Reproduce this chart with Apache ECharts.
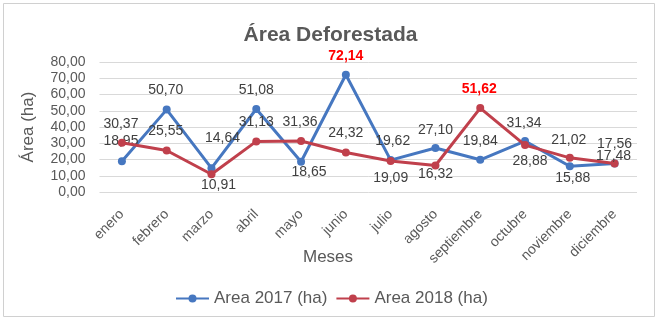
<!DOCTYPE html>
<html>
<head>
<meta charset="utf-8">
<script src="https://cdn.jsdelivr.net/npm/echarts@6/dist/echarts.min.js"></script>
<style>
html,body{margin:0;padding:0;background:#fff;}
#chart{width:661px;height:323px;}
</style>
</head>
<body>
<div id="chart"></div>
<script>
var categories = ['enero','febrero','marzo','abril','mayo','junio','julio','agosto','septiembre','octubre','noviembre','diciembre'];
var area2017 = [18.95, 50.70, 14.64, 51.08, 18.65, 72.14, 19.62, 27.10, 19.84, 31.34, 15.88, 17.56];
var area2018 = [30.37, 25.55, 10.91, 31.13, 31.36, 24.32, 19.09, 16.32, 51.62, 28.88, 21.02, 17.48];
var yTicks = [0, 10, 20, 30, 40, 50, 60, 70, 80];

// label placement (offset from point to label centre), style only
var off2017 = [[-1,-20],[-1,-19],[11,-30],[0,-19],[8,10],[0,-19],[2,-19],[0,-18],[0,-19],[-1,-18],[3,12],[0,-19]];
var off2018 = [[-1,-19],[-1,-19],[7,11],[0,-19],[-1,-19],[0,-19],[0,17],[0,9],[-1,-19],[5,16],[-1,-18],[-1,-7]];

var FONT = "'Liberation Sans', Arial, sans-serif";
var BLUE = '#4677C0';
var RED = '#C0404C';

function fmt(v){ return v.toFixed(2).replace('.', ','); }

function buildData(vals, offs){
  var maxV = Math.max.apply(null, vals);
  return vals.map(function(v, i){
    var isMax = v === maxV;
    return {
      value: v,
      label: {
        offset: offs[i],
        color: isMax ? '#FF0000' : '#404040',
        fontWeight: isMax ? 'bold' : 'normal'
      }
    };
  });
}

var chart = echarts.init(document.getElementById('chart'), null, {renderer:'canvas'});
var baseLabel = {
  show: true,
  position: 'inside',
  align: 'center',
  verticalAlign: 'middle',
  fontFamily: FONT,
  fontSize: 14,
  formatter: function(p){ return fmt(p.value); }
};
chart.setOption({
  backgroundColor: '#ffffff',
  animation: false,
  title: {
    text: 'Área Deforestada',
    left: 'center',
    top: 20,
    textStyle: {fontFamily: FONT, fontSize: 21, fontWeight: 'bold', color: '#595959'}
  },
  graphic: [
    {type:'rect', shape:{x:3.5, y:3.5, width:651, height:313}, style:{fill:'none', stroke:'#d0d0d0', lineWidth:1}, silent:true},
    {type:'text', left: 303, top: 249, style:{text:'Meses', font: '17px ' + FONT, fill:'#595959'}}
  ],
  legend: {
    left: 170,
    top: 285,
    itemWidth: 33,
    itemHeight: 10,
    itemGap: 8,
    textStyle: {fontFamily: FONT, fontSize: 17, color: '#595959'},
    data: ['Area 2017 (ha)', 'Area 2018 (ha)']
  },
  grid: {left: 99.5, right: 24, top: 62, bottom: 131, containLabel: false},
  xAxis: {
    type: 'category',
    data: categories,
    boundaryGap: true,
    axisLine: {show: false},
    axisTick: {show: false},
    axisLabel: {rotate: 45, margin: 20, fontFamily: FONT, fontSize: 14, color: '#595959', interval: 0}
  },
  yAxis: {
    type: 'value',
    min: yTicks[0],
    max: yTicks[yTicks.length-1],
    interval: yTicks[1] - yTicks[0],
    name: 'Área (ha)',
    nameLocation: 'middle',
    nameRotate: 90,
    nameGap: 63,
    nameTextStyle: {fontFamily: FONT, fontSize: 17, color: '#595959'},
    axisLine: {show: false},
    axisTick: {show: false},
    splitLine: {lineStyle: {color: '#d9d9d9', width: 1}},
    axisLabel: {margin: 14, fontFamily: FONT, fontSize: 14, color: '#595959', formatter: function(v){ return fmt(v); }}
  },
  series: [
    {
      name: 'Area 2017 (ha)',
      type: 'line',
      data: buildData(area2017, off2017),
      symbol: 'circle',
      symbolSize: 8,
      itemStyle: {color: BLUE},
      lineStyle: {color: BLUE, width: 3},
      label: baseLabel,
      z: 2
    },
    {
      name: 'Area 2018 (ha)',
      type: 'line',
      data: buildData(area2018, off2018),
      symbol: 'circle',
      symbolSize: 8,
      itemStyle: {color: RED},
      lineStyle: {color: RED, width: 3},
      label: baseLabel,
      z: 3
    }
  ]
});
</script>
</body>
</html>
